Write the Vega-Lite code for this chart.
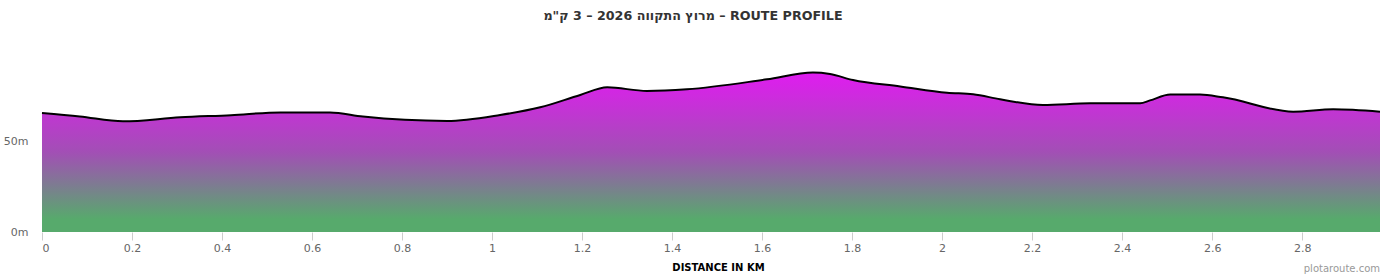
{
  "$schema": "https://vega.github.io/schema/vega-lite/v6.json",
  "width": 1338,
  "height": 182,
  "autosize": {"type": "none"},
  "padding": {"left": 42, "top": 50, "right": 20, "bottom": 48},
  "background": "white",
  "title": {
    "text": "מרוץ התקווה 2026 – 3 ק\"מ – ROUTE PROFILE",
    "font": "DejaVu Sans",
    "fontSize": 12.7,
    "fontWeight": "bold",
    "color": "#333333",
    "anchor": "middle",
    "dx": -18,
    "offset": 27
  },
  "config": {
    "view": {"stroke": null},
    "axis": {"labelFont": "DejaVu Sans", "titleFont": "DejaVu Sans"}
  },
  "datasets": {
    "profile": [
      {"km": 0.0, "ele": 65.4},
      {"km": 0.084, "ele": 63.5},
      {"km": 0.18, "ele": 60.8},
      {"km": 0.307, "ele": 63.0},
      {"km": 0.42, "ele": 64.2},
      {"km": 0.53, "ele": 65.7},
      {"km": 0.64, "ele": 65.7},
      {"km": 0.713, "ele": 63.4},
      {"km": 0.9, "ele": 61.0},
      {"km": 1.018, "ele": 64.3},
      {"km": 1.107, "ele": 68.5},
      {"km": 1.196, "ele": 75.3},
      {"km": 1.256, "ele": 79.5},
      {"km": 1.344, "ele": 77.5},
      {"km": 1.433, "ele": 78.4},
      {"km": 1.611, "ele": 83.9},
      {"km": 1.713, "ele": 87.6},
      {"km": 1.751, "ele": 86.8},
      {"km": 1.802, "ele": 83.5},
      {"km": 1.907, "ele": 80.0},
      {"km": 2.011, "ele": 76.5},
      {"km": 2.069, "ele": 75.7},
      {"km": 2.129, "ele": 72.9},
      {"km": 2.224, "ele": 69.8},
      {"km": 2.329, "ele": 70.7},
      {"km": 2.44, "ele": 70.7},
      {"km": 2.462, "ele": 72.3},
      {"km": 2.507, "ele": 75.5},
      {"km": 2.573, "ele": 75.5},
      {"km": 2.624, "ele": 74.0},
      {"km": 2.78, "ele": 66.1},
      {"km": 2.869, "ele": 67.4},
      {"km": 2.973, "ele": 66.1}
    ],
    "credit": [
      {"km": 2.973, "ele": -20.5, "label": "plotaroute.com"}
    ]
  },
  "layer": [
    {
      "data": {"name": "profile"},
      "mark": {
        "type": "area",
        "interpolate": "monotone",
        "color": {
          "gradient": "linear",
          "x1": 0, "y1": 0, "x2": 0, "y2": 1,
          "stops": [
            {"offset": 0, "color": "#e01cf0"},
            {"offset": 0.5, "color": "#a24fb5"},
            {"offset": 0.92, "color": "#57aa6c"},
            {"offset": 1, "color": "#57aa6c"}
          ]
        }
      },
      "encoding": {
        "x": {
          "field": "km",
          "type": "quantitative",
          "scale": {"domain": [0, 2.973], "nice": false, "zero": false},
          "axis": {
            "values": [0, 0.2, 0.4, 0.6, 0.8, 1, 1.2, 1.4, 1.6, 1.8, 2, 2.2, 2.4, 2.6, 2.8],
            "format": "~g",
            "domain": false,
            "grid": false,
            "tickColor": "#cccccc",
            "tickSize": 8,
            "labelColor": "#666666",
            "labelFontSize": 11,
            "labelPadding": 2,
            "title": "DISTANCE IN KM",
            "titleFontSize": 10,
            "titleFontWeight": "bold",
            "titleColor": "#000000",
            "titlePadding": 9,
            "titleX": 676
          }
        },
        "y": {
          "field": "ele",
          "type": "quantitative",
          "scale": {"domain": [0, 100], "nice": false},
          "axis": {
            "values": [0, 50],
            "labelExpr": "datum.value + 'm'",
            "domain": false,
            "ticks": false,
            "grid": false,
            "labelColor": "#666666",
            "labelFontSize": 11,
            "labelPadding": 14,
            "title": null
          }
        }
      }
    },
    {
      "data": {"name": "profile"},
      "mark": {"type": "line", "interpolate": "monotone", "color": "#000000", "strokeWidth": 2},
      "encoding": {
        "x": {"field": "km", "type": "quantitative"},
        "y": {"field": "ele", "type": "quantitative"}
      }
    },
    {
      "data": {"name": "credit"},
      "mark": {"type": "text", "align": "right", "baseline": "middle", "font": "DejaVu Sans", "fontSize": 10, "color": "#999999", "clip": false},
      "encoding": {
        "x": {"field": "km", "type": "quantitative"},
        "y": {"field": "ele", "type": "quantitative"},
        "text": {"field": "label"}
      }
    }
  ]
}
